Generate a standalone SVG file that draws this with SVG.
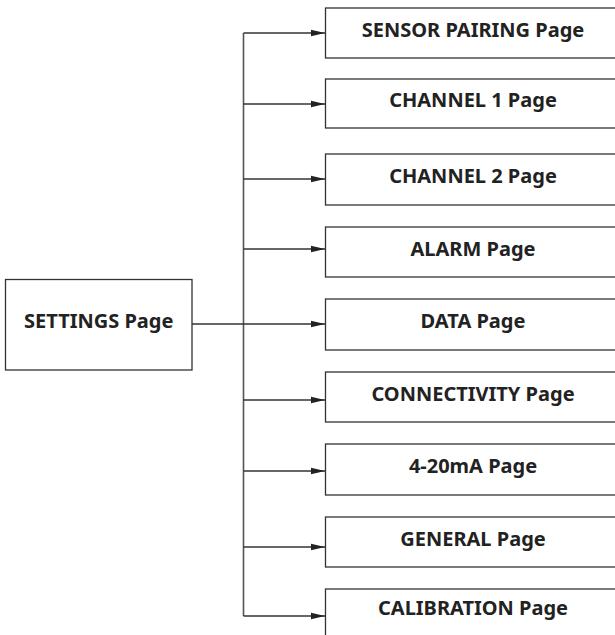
<svg xmlns="http://www.w3.org/2000/svg" width="615" height="635" viewBox="0 0 615 635">
<defs>
<marker id="ah" markerWidth="14" markerHeight="8" refX="14" refY="4" orient="auto" markerUnits="userSpaceOnUse">
<path d="M0,0.8 L14,4 L0,7.2 Z" fill="#222"/>
</marker>
<style>
.box{fill:#fff;stroke:#333;stroke-width:1.3}
.lbl{font-family:"Noto Sans","Liberation Sans",sans-serif;font-weight:bold;font-size:20px;fill:#222;text-anchor:middle}
.ln{fill:none;stroke:#333;stroke-width:1.3}
.vl{fill:none;stroke:#555;stroke-width:1.6}
</style>
</defs>
<rect width="615" height="635" fill="#fff"/>
<g id="connectors">
<path class="vl" d="M243.5,33 V616"/>
<path class="ln" d="M192,324 H325" marker-end="url(#ah)"/>
<path class="ln" d="M243.5,33 H325" marker-end="url(#ah)"/>
<path class="ln" d="M243.5,104 H325" marker-end="url(#ah)"/>
<path class="ln" d="M243.5,179 H325" marker-end="url(#ah)"/>
<path class="ln" d="M243.5,249 H325" marker-end="url(#ah)"/>
<path class="ln" d="M243.5,400 H325" marker-end="url(#ah)"/>
<path class="ln" d="M243.5,471 H325" marker-end="url(#ah)"/>
<path class="ln" d="M243.5,547 H325" marker-end="url(#ah)"/>
<path class="ln" d="M243.5,616 H325" marker-end="url(#ah)"/>
</g>
<g id="settings"><rect class="box" x="5.5" y="279.5" width="186.5" height="90.5"/><text class="lbl" x="98.7" y="328.3">SETTINGS Page</text></g>
<g id="sensor-pairing"><rect class="box" x="325.5" y="8" width="300" height="50"/><text class="lbl" x="473" y="36.7">SENSOR PAIRING Page</text></g>
<g id="channel1"><rect class="box" x="325.5" y="79" width="300" height="49"/><text class="lbl" x="473" y="107.2">CHANNEL 1 Page</text></g>
<g id="channel2"><rect class="box" x="325.5" y="154" width="300" height="51"/><text class="lbl" x="473" y="183.2">CHANNEL 2 Page</text></g>
<g id="alarm"><rect class="box" x="325.5" y="227" width="300" height="50"/><text class="lbl" x="473" y="255.7">ALARM Page</text></g>
<g id="data"><rect class="box" x="325.5" y="299" width="300" height="51"/><text class="lbl" x="473" y="328.2">DATA Page</text></g>
<g id="connectivity"><rect class="box" x="325.5" y="372" width="300" height="50"/><text class="lbl" x="473" y="400.7">CONNECTIVITY Page</text></g>
<g id="4-20ma"><rect class="box" x="325.5" y="444" width="300" height="51"/><text class="lbl" x="473" y="473.3">4-20mA Page</text></g>
<g id="general"><rect class="box" x="325.5" y="517" width="300" height="50"/><text class="lbl" x="473" y="545.7">GENERAL Page</text></g>
<g id="calibration"><rect class="box" x="325.5" y="589" width="300" height="60"/><text class="lbl" x="473" y="615">CALIBRATION Page</text></g>
</svg>
